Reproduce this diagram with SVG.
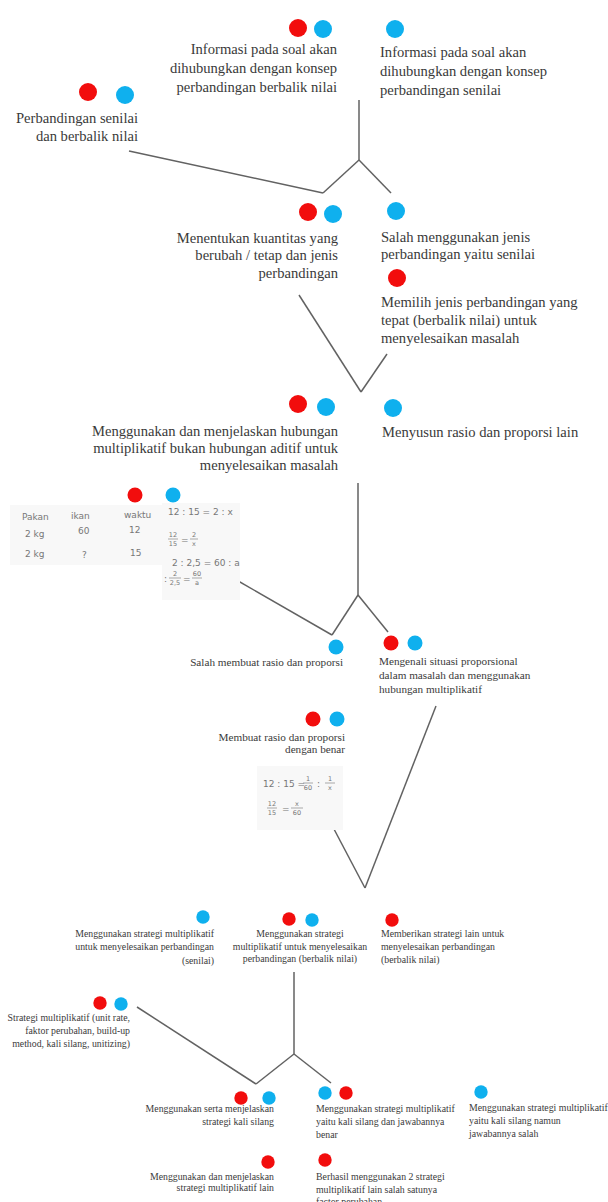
<svg xmlns="http://www.w3.org/2000/svg" width="608" height="1202" viewBox="0 0 608 1202">
<style>
text{font-family:"Liberation Serif","Times New Roman",serif;fill:#3a3a3a}
.t1{font-family:"Liberation Serif","Times New Roman",serif;font-size:14.6px}
.t2{font-size:11.2px}
.t3{font-size:9.8px}
.e{text-anchor:end}
.m{text-anchor:middle}
.r{fill:#f20d0d}
.b{fill:#0fb0ee}
.hw{font-family:"DejaVu Sans",sans-serif;fill:#777;font-size:9px}
.hs{font-family:"DejaVu Sans",sans-serif;fill:#777;font-size:6.5px;text-anchor:middle}
.fb{stroke:#888;stroke-width:0.7}
.bg{fill:#f8f8f8}
#connectors line{stroke:#626262;stroke-width:1.5;fill:none}
</style>
<rect width="608" height="1202" fill="#ffffff"/>

<g id="connectors">
<line x1="129" y1="151" x2="323" y2="193"/>
<line x1="359" y1="100" x2="359" y2="160"/>
<line x1="359" y1="160" x2="323" y2="193"/>
<line x1="359" y1="160" x2="391" y2="193"/>
<line x1="299" y1="295" x2="361" y2="392"/>
<line x1="387" y1="354" x2="361" y2="392"/>
<line x1="358" y1="483" x2="358" y2="595"/>
<line x1="358" y1="595" x2="332" y2="635"/>
<line x1="358" y1="595" x2="388" y2="632"/>
<line x1="233" y1="578" x2="332" y2="635"/>
<line x1="436" y1="706" x2="365" y2="888"/>
<line x1="325" y1="812" x2="365" y2="888"/>
<line x1="294" y1="972" x2="294" y2="1054"/>
<line x1="294" y1="1054" x2="256" y2="1084"/>
<line x1="294" y1="1054" x2="331" y2="1083"/>
<line x1="137" y1="1007" x2="256" y2="1084"/>
</g>

<g id="node-info-berbalik">
<circle class="r" cx="298" cy="28" r="9"/><circle class="b" cx="323" cy="29" r="9"/>
<text class="t1 e" x="337" y="54">Informasi pada soal akan</text>
<text class="t1 e" x="337" y="73">dihubungkan dengan konsep</text>
<text class="t1 e" x="337" y="92">perbandingan berbalik nilai</text>
</g>

<g id="node-info-senilai">
<circle class="b" cx="395" cy="29" r="9"/>
<text class="t1" x="380" y="57">Informasi pada soal akan</text>
<text class="t1" x="380" y="76">dihubungkan dengan konsep</text>
<text class="t1" x="380" y="95">perbandingan senilai</text>
</g>

<g id="node-perbandingan">
<circle class="r" cx="88" cy="92" r="9"/><circle class="b" cx="125" cy="95" r="9"/>
<text class="t1 e" x="138" y="123">Perbandingan senilai</text>
<text class="t1 e" x="138" y="141">dan berbalik nilai</text>
</g>

<g id="node-menentukan">
<circle class="r" cx="308" cy="212" r="9"/><circle class="b" cx="333" cy="214" r="9"/>
<text class="t1 e" x="338" y="243">Menentukan kuantitas yang</text>
<text class="t1 e" x="338" y="260">berubah / tetap dan jenis</text>
<text class="t1 e" x="338" y="278">perbandingan</text>
</g>

<g id="node-salah-jenis">
<circle class="b" cx="396" cy="211" r="9"/>
<text class="t1" x="381" y="242">Salah menggunakan jenis</text>
<text class="t1" x="381" y="259">perbandingan yaitu senilai</text>
</g>

<g id="node-memilih">
<circle class="r" cx="397" cy="278" r="9"/>
<text class="t1" x="381" y="307">Memilih jenis perbandingan yang</text>
<text class="t1" x="381" y="325">tepat (berbalik nilai) untuk</text>
<text class="t1" x="381" y="343">menyelesaikan masalah</text>
</g>

<g id="node-multiplikatif">
<circle class="r" cx="298" cy="404" r="9"/><circle class="b" cx="326" cy="407" r="9"/>
<text class="t1 e" x="338" y="436">Menggunakan dan menjelaskan hubungan</text>
<text class="t1 e" x="338" y="453">multiplikatif bukan hubungan aditif untuk</text>
<text class="t1 e" x="338" y="470">menyelesaikan masalah</text>
</g>

<g id="node-menyusun">
<circle class="b" cx="393" cy="408" r="9"/>
<text class="t1" x="382" y="437">Menyusun rasio dan proporsi lain</text>
</g>

<g id="node-tulisan-1">
<circle class="r" cx="135" cy="495" r="7.5"/><circle class="b" cx="173" cy="495" r="7.5"/>
<rect class="bg" x="10" y="505" width="155" height="60"/>
<rect class="bg" x="162" y="503" width="78" height="97"/>
<text class="hw" x="22" y="520">Pakan</text>
<text class="hw" x="71" y="519">ikan</text>
<text class="hw" x="124" y="518">waktu</text>
<text class="hw" x="25" y="537">2 kg</text>
<text class="hw" x="78" y="534">60</text>
<text class="hw" x="129" y="533">12</text>
<text class="hw" x="25" y="557">2 kg</text>
<text class="hw" x="82" y="558">?</text>
<text class="hw" x="130" y="556">15</text>
<text class="hw" x="168" y="515">12 : 15 = 2 : x</text>
<text class="hs" x="173" y="537">12</text><line class="fb" x1="168" y1="539" x2="178" y2="539"/><text class="hs" x="173" y="546">15</text>
<text class="hw" x="181" y="543">=</text>
<text class="hs" x="194" y="537">2</text><line class="fb" x1="190" y1="539" x2="198" y2="539"/><text class="hs" x="194" y="546">x</text>
<text class="hw" x="172" y="566">2 : 2,5 = 60 : a</text>
<text class="hw" x="164" y="582">:</text>
<text class="hs" x="175" y="576">2</text><line class="fb" x1="169" y1="578" x2="181" y2="578"/><text class="hs" x="175" y="585">2,5</text>
<text class="hw" x="183" y="582">=</text>
<text class="hs" x="197" y="576">60</text><line class="fb" x1="192" y1="578" x2="202" y2="578"/><text class="hs" x="197" y="585">a</text>
</g>

<g id="node-salah-rasio">
<circle class="b" cx="336" cy="647" r="7.5"/>
<text class="t2 e" x="343" y="666">Salah membuat rasio dan proporsi</text>
</g>

<g id="node-mengenali">
<circle class="r" cx="391" cy="643" r="7.5"/><circle class="b" cx="415" cy="643" r="7.5"/>
<text class="t2" x="379" y="665">Mengenali situasi proporsional</text>
<text class="t2" x="379" y="679">dalam masalah dan menggunakan</text>
<text class="t2" x="379" y="693">hubungan multiplikatif</text>
</g>

<g id="node-membuat-rasio">
<circle class="r" cx="313" cy="719" r="7.5"/><circle class="b" cx="337" cy="719" r="7.5"/>
<text class="t2 e" x="345" y="741">Membuat rasio dan proporsi</text>
<text class="t2 e" x="345" y="753">dengan benar</text>
</g>

<g id="node-tulisan-2">
<rect class="bg" x="257" y="766" width="86" height="64"/>
<text class="hw" x="263" y="787">12 : 15 =</text>
<text class="hs" x="308" y="781">1</text><line class="fb" x1="303" y1="783" x2="313" y2="783"/><text class="hs" x="308" y="790">60</text>
<text class="hw" x="317" y="787">:</text>
<text class="hs" x="330" y="781">1</text><line class="fb" x1="325" y1="783" x2="335" y2="783"/><text class="hs" x="330" y="790">x</text>
<text class="hs" x="272" y="806">12</text><line class="fb" x1="267" y1="808" x2="277" y2="808"/><text class="hs" x="272" y="815">15</text>
<text class="hw" x="282" y="812">=</text>
<text class="hs" x="297" y="806">x</text><line class="fb" x1="291" y1="808" x2="303" y2="808"/><text class="hs" x="297" y="815">60</text>
</g>

<g id="node-strategi-senilai">
<circle class="b" cx="203" cy="917" r="6.7"/>
<text class="t3 e" x="214" y="937">Menggunakan strategi multiplikatif</text>
<text class="t3 e" x="214" y="950">untuk menyelesaikan perbandingan</text>
<text class="t3 e" x="214" y="964">(senilai)</text>
</g>

<g id="node-strategi-berbalik">
<circle class="r" cx="289" cy="919" r="6.7"/><circle class="b" cx="312" cy="920" r="6.7"/>
<text class="t3 m" x="300" y="937">Menggunakan strategi</text>
<text class="t3 m" x="300" y="950">multiplikatif untuk menyelesaikan</text>
<text class="t3 m" x="300" y="962">perbandingan (berbalik nilai)</text>
</g>

<g id="node-strategi-lain">
<circle class="r" cx="392" cy="920" r="6.7"/>
<text class="t3" x="381" y="937">Memberikan strategi lain untuk</text>
<text class="t3" x="381" y="950">menyelesaikan perbandingan</text>
<text class="t3" x="381" y="963">(berbalik nilai)</text>
</g>

<g id="node-strategi-multiplikatif">
<circle class="r" cx="100" cy="1003" r="6.7"/><circle class="b" cx="121" cy="1004" r="6.7"/>
<text class="t3 e" x="130" y="1021">Strategi multiplikatif (unit rate,</text>
<text class="t3 e" x="130" y="1034">faktor perubahan, build-up</text>
<text class="t3 e" x="130" y="1047">method, kali silang, unitizing)</text>
</g>

<g id="node-kali-silang">
<circle class="r" cx="241" cy="1098" r="6.7"/><circle class="b" cx="269" cy="1098" r="6.7"/>
<text class="t3 e" x="274" y="1112">Menggunakan serta menjelaskan</text>
<text class="t3 e" x="274" y="1125">strategi kali silang</text>
</g>

<g id="node-kali-silang-benar">
<circle class="b" cx="325" cy="1093" r="6.7"/><circle class="r" cx="346" cy="1093" r="6.7"/>
<text class="t3" x="316" y="1112">Menggunakan strategi multiplikatif</text>
<text class="t3" x="316" y="1125">yaitu kali silang dan jawabannya</text>
<text class="t3" x="316" y="1138">benar</text>
</g>

<g id="node-kali-silang-salah">
<circle class="b" cx="481" cy="1092" r="6.7"/>
<text class="t3" x="469" y="1111">Menggunakan strategi multiplikatif</text>
<text class="t3" x="469" y="1124">yaitu kali silang namun</text>
<text class="t3" x="469" y="1137">jawabannya salah</text>
</g>

<g id="node-strategi-lain-2">
<circle class="r" cx="268" cy="1162" r="6.7"/>
<text class="t3 e" x="274" y="1180">Menggunakan dan menjelaskan</text>
<text class="t3 e" x="274" y="1191">strategi multiplikatif lain</text>
</g>

<g id="node-dua-strategi">
<circle class="r" cx="325" cy="1160" r="6.7"/>
<text class="t3" x="316" y="1180">Berhasil menggunakan 2 strategi</text>
<text class="t3" x="316" y="1193">multiplikatif lain salah satunya</text>
<text class="t3" x="316" y="1205">factor perubahan</text>
</g>
</svg>
